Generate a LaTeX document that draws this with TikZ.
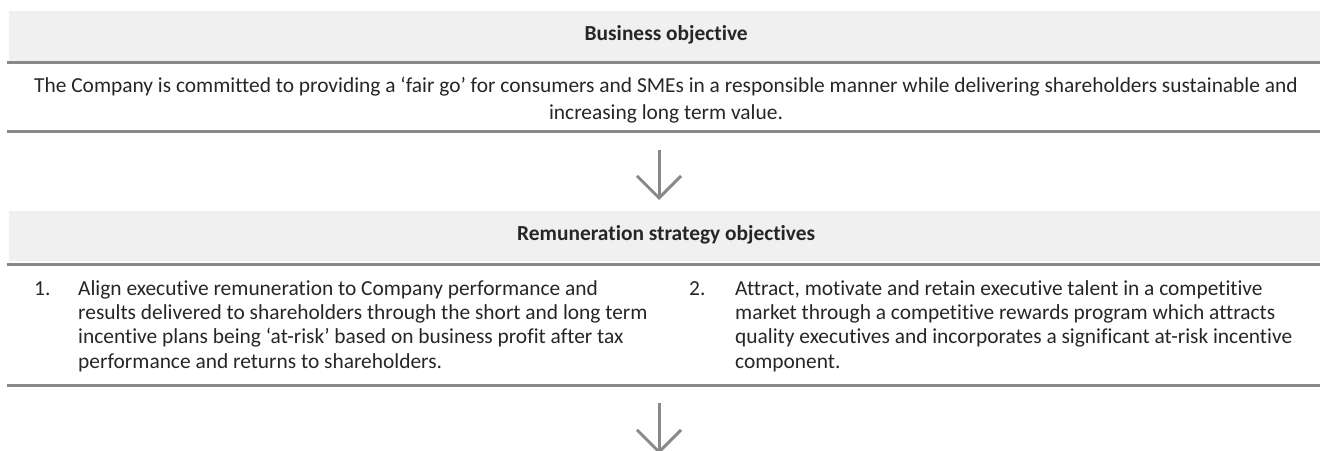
\documentclass[tikz,border=0pt]{standalone}
\usepackage{fontspec}
\setmainfont[Ligatures=NoCommon]{Carlito}
\usetikzlibrary{arrows.meta}
\definecolor{bandgrey}{HTML}{F0F0F0}
\definecolor{rulegrey}{HTML}{888888}
\definecolor{inkgrey}{HTML}{262626}
\tikzset{
  band/.style={fill=bandgrey, minimum width=1314pt, minimum height=50pt, inner sep=0pt,
    text height=14pt, text depth=6pt, text=inkgrey, font=\fontsize{21.4}{24}\selectfont\bfseries},
  rulebar/.style={rulegrey, line width=3pt},
  bodytext/.style={inner sep=0pt, text=inkgrey, font=\fontsize{21.4}{27}\selectfont},
  itemtext/.style={inner sep=0pt, text=inkgrey, align=left, font=\fontsize{21.4}{24.3}\selectfont},
  flowarrow/.style={rulegrey, line width=3pt, -{Straight Barb[length=22pt,width=44pt]}}
}
\begin{document}
\begin{tikzpicture}[x=1pt,y=-1pt]
\useasboundingbox (0,0) rectangle (1320,450);

\node[band, anchor=north west] (objhead) at (9,11) {Business objective};
\draw[rulebar] (7,62.5) -- (1323,62.5);
\node[bodytext, align=center, anchor=base] (objtext) at (666,119)
  {The Company is committed to providing a ‘fair go’ for consumers and SMEs in a responsible manner while delivering shareholders sustainable and\\
   increasing long term value.};
\draw[rulebar] (7,131.5) -- (1323,131.5);

\node[band, anchor=north west] (remhead) at (9,211) {Remuneration strategy objectives};
\draw[rulebar] (7,264.5) -- (1323,264.5);

\node[itemtext, anchor=base west] (numone) at (34,295) {1.};
\node[itemtext, anchor=base west] (itemone) at (78,368)
  {Align executive remuneration to Company performance and\\
   results delivered to shareholders through the short and long term\\
   incentive plans being ‘at-risk’ based on business profit after tax\\
   performance and returns to shareholders.};
\node[itemtext, anchor=base west] (numtwo) at (689,295) {2.};
\node[itemtext, anchor=base west] (itemtwo) at (735,368)
  {Attract, motivate and retain executive talent in a competitive\\
   market through a competitive rewards program which attracts\\
   quality executives and incorporates a significant at-risk incentive\\
   component.};
\draw[rulebar] (7,385.5) -- (1323,385.5);

\coordinate (objend) at (659,150);
\coordinate (remend) at (659,403);
\draw[flowarrow, shorten >=11pt] (objend) -- (objend |- remhead.north);
\draw[flowarrow] (remend) -- ++(0,51);
\end{tikzpicture}
\end{document}
